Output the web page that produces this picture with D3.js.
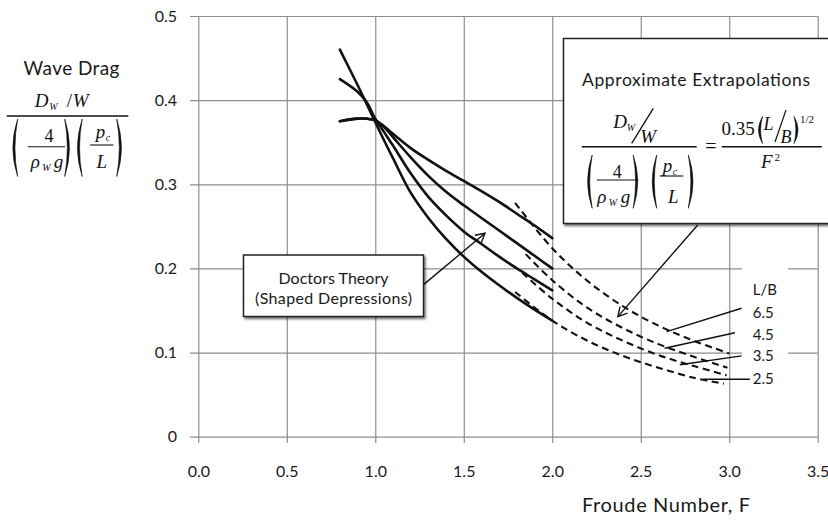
<!DOCTYPE html>
<html><head><meta charset="utf-8">
<script src="https://cdn.jsdelivr.net/npm/d3@7"></script>
<style>
body{margin:0;background:#fff}
svg{display:block}
.sans{font-family:Lato,'Open Sans','Liberation Sans',sans-serif;fill:#1a1a1a}
.serif{font-family:'Liberation Serif','DejaVu Serif',serif;fill:#111}
</style>
</head><body><svg id="c" width="828" height="522"></svg>
<script>
// ---------- data ----------
const xTicks = [0, 0.5, 1, 1.5, 2, 2.5, 3, 3.5];
const xTickLabels = ["0.0", "0.5", "1.0", "1.5", "2.0", "2.5", "3.0", "3.5"];
const yTicks = [0, 0.1, 0.2, 0.3, 0.4, 0.5];
const yTickLabels = ["0", "0.1", "0.2", "0.3", "0.4", "0.5"];
const ratios = ["6.5", "4.5", "3.5", "2.5"];

// Doctors theory (solid), Froude number grid
const theoryF  = [0.8, 0.9, 0.95, 1.0, 1.05, 1.1, 1.2, 1.3, 1.4, 1.5, 1.6, 1.7, 1.8, 1.9, 2.0];
const theory65 = [0.375, 0.378, 0.378, 0.376, 0.369, 0.360, 0.343, 0.329, 0.316, 0.304, 0.292, 0.279, 0.265, 0.251, 0.236];
const theory45 = [0.375, 0.378, 0.378, 0.376, 0.368, 0.356, 0.332, 0.310, 0.291, 0.275, 0.260, 0.245, 0.230, 0.215, 0.200];
const theory35 = [0.425, 0.410, 0.398, 0.378, 0.362, 0.346, 0.313, 0.285, 0.263, 0.244, 0.229, 0.214, 0.200, 0.187, 0.174];
const theory25 = [0.460, 0.418, 0.396, 0.374, 0.352, 0.331, 0.290, 0.260, 0.235, 0.214, 0.196, 0.180, 0.165, 0.151, 0.138];

// Approximate extrapolations (dashed)
const extrap65F = [1.79, 2.0, 2.2, 2.4, 2.6, 2.8, 3.0];
const extrap65  = [0.278, 0.224, 0.185, 0.155, 0.132, 0.114, 0.099];
const extrap45F = [1.85, 2.0, 2.2, 2.4, 2.6, 2.8, 2.99];
const extrap45  = [0.217, 0.186, 0.153, 0.129, 0.110, 0.095, 0.082];
const extrap35F = [1.83, 2.0, 2.2, 2.4, 2.6, 2.8, 2.985];
const extrap35  = [0.195, 0.164, 0.135, 0.114, 0.097, 0.084, 0.073];
const extrap25F = [1.79, 2.0, 2.2, 2.4, 2.6, 2.8, 2.97];
const extrap25  = [0.172, 0.138, 0.114, 0.096, 0.082, 0.070, 0.063];

// L/B label leader lines (data units): from label side to curve
const leaderFromF = [3.07, 3.032, 3.07, 3.117];
const leaderFromV = [0.1527, 0.1236, 0.096, 0.0683];
const leaderToF   = [2.646, 2.635, 2.721, 2.853];
const leaderToV   = [0.1249, 0.1051, 0.0855, 0.0683];
const labelV      = [0.1474, 0.1217, 0.0963, 0.0693];
const labelTitleV = 0.1744;
const labelF = 3.133;

// ---------- chart ----------
const svg = d3.select("#c");
const x = d3.scaleLinear().domain([0, 3.5]).range([198.3, 817.7]);
const y = d3.scaleLinear().domain([0, 0.5]).range([436.7, 16]);
const grid = "#8e8e8e";

// horizontal grid + y labels
const ya = svg.append("g").attr("transform", "translate(190,0)")
  .call(d3.axisLeft(y).tickValues(yTicks).tickFormat((d, i) => yTickLabels[i])
    .tickSizeInner(-(x(3.5) - 190)).tickSizeOuter(0).tickPadding(13));
ya.select(".domain").remove();
ya.selectAll("line").attr("stroke", grid).attr("stroke-width", 1.2);
ya.selectAll("text").attr("class", "sans").attr("font-size", 16).attr("fill", "#1a1a1a");

// vertical grid + x labels
const xa = svg.append("g").attr("transform", "translate(0,443)")
  .call(d3.axisBottom(x).tickValues(xTicks).tickFormat((d, i) => xTickLabels[i])
    .tickSizeInner(-(443 - y(0.5))).tickSizeOuter(0).tickPadding(23));
xa.select(".domain").remove();
xa.selectAll("line").attr("stroke", grid).attr("stroke-width", 1.2);
xa.selectAll("text").attr("class", "sans").attr("font-size", 16).attr("fill", "#1a1a1a");

svg.append("text").attr("class", "sans").attr("x", 666).attr("y", 512)
  .attr("text-anchor", "middle").attr("font-size", 20).attr("textLength", 168)
  .text("Froude Number, F");

// curves
const line = d3.line().x(d => x(d[0])).y(d => y(d[1])).curve(d3.curveCatmullRom.alpha(0.5));
const solidSets = [theory65, theory45, theory35, theory25];
solidSets.forEach(vals => {
  svg.append("path").attr("d", line(theoryF.map((f, i) => [f, vals[i]])))
    .attr("fill", "none").attr("stroke", "#111").attr("stroke-width", 2.6).attr("stroke-linecap", "round");
});
const dashSets = [[extrap65F, extrap65], [extrap45F, extrap45], [extrap35F, extrap35], [extrap25F, extrap25]];
dashSets.forEach(([fs, vals]) => {
  svg.append("path").attr("d", line(fs.map((f, i) => [f, vals[i]])))
    .attr("fill", "none").attr("stroke", "#111").attr("stroke-width", 2.1).attr("stroke-dasharray", "7,4.5");
});

// defs: shadow + arrow
const defs = svg.append("defs");
const flt = defs.append("filter").attr("id", "sh").attr("x", "-10%").attr("y", "-10%").attr("width", "130%").attr("height", "140%");
flt.append("feDropShadow").attr("dx", 1.5).attr("dy", 2).attr("stdDeviation", 1.3).attr("flood-color", "#000").attr("flood-opacity", 0.55);
defs.append("marker").attr("id", "arr").attr("viewBox", "0 0 12 12").attr("refX", 10).attr("refY", 6)
  .attr("markerWidth", 12).attr("markerHeight", 12).attr("markerUnits", "userSpaceOnUse").attr("orient", "auto")
  .append("path").attr("d", "M1,1 L10,6 L1,11").attr("fill", "none").attr("stroke", "#111").attr("stroke-width", 1.4);

// L/B label area (white behind)
svg.append("rect").attr("x", 742).attr("y", 262).attr("width", 46).attr("height", 128).attr("fill", "#fff");
ratios.forEach((r, i) => {
  svg.append("line").attr("x1", x(leaderFromF[i])).attr("y1", y(leaderFromV[i]))
    .attr("x2", x(leaderToF[i])).attr("y2", y(leaderToV[i])).attr("stroke", "#111").attr("stroke-width", 1.4);
  svg.append("text").attr("class", "sans").attr("x", x(labelF)).attr("y", y(labelV[i]))
    .attr("dy", "0.36em").attr("font-size", 15).text(r);
});
svg.append("text").attr("class", "sans").attr("x", x(labelF)).attr("y", y(labelTitleV))
  .attr("dy", "0.36em").attr("font-size", 15).text("L/B");

// arrows
svg.append("line").attr("x1", x(2.822)).attr("y1", y(0.2517)).attr("x2", x(2.371)).attr("y2", y(0.1427))
  .attr("stroke", "#111").attr("stroke-width", 1.4).attr("marker-end", "url(#arr)");
svg.append("line").attr("x1", x(1.271)).attr("y1", y(0.1804)).attr("x2", x(1.62)).attr("y2", y(0.2418))
  .attr("stroke", "#111").attr("stroke-width", 1.4).attr("marker-end", "url(#arr)");

// Doctors box
svg.append("rect").attr("x", 243.5).attr("y", 255).attr("width", 180).attr("height", 61.5)
  .attr("fill", "#fff").attr("stroke", "#222").attr("stroke-width", 1.5).attr("filter", "url(#sh)");
svg.append("text").attr("class", "sans").attr("x", 333.5).attr("y", 283.5).attr("text-anchor", "middle")
  .attr("font-size", 16).attr("textLength", 110).text("Doctors Theory");
svg.append("text").attr("class", "sans").attr("x", 333.5).attr("y", 304).attr("text-anchor", "middle")
  .attr("font-size", 16).attr("textLength", 157).text("(Shaped Depressions)");

// Extrapolation box
svg.append("rect").attr("x", 563.5).attr("y", 38.5).attr("width", 290).attr("height", 185)
  .attr("fill", "#fff").attr("stroke", "#222").attr("stroke-width", 1.5).attr("filter", "url(#sh)");
svg.append("text").attr("class", "sans").attr("x", 582).attr("y", 85.5)
  .attr("font-size", 17.5).attr("textLength", 228).text("Approximate Extrapolations");

// ---------- formula helpers ----------
function t(g, px, py, str, size, italic, anchor) {
  return g.append("text").attr("class", "serif").attr("x", px).attr("y", py).attr("font-size", size)
    .attr("font-style", italic ? "italic" : "normal").attr("text-anchor", anchor || "start").text(str);
}
function paren(g, x0, x1, y0, y1, left) {
  const m = (y0 + y1) / 2;
  const d = left
    ? `M${x1},${y0} Q${x0 - 2},${m} ${x1},${y1} Q${x0 + 2.2},${m} ${x1},${y0} Z`
    : `M${x0},${y0} Q${x1 + 2},${m} ${x0},${y1} Q${x1 - 2.2},${m} ${x0},${y0} Z`;
  g.append("path").attr("d", d).attr("fill", "#111").attr("stroke", "#111").attr("stroke-width", 0.6);
}
function hbar(g, x0, x1, yy, w) {
  g.append("line").attr("x1", x0).attr("x2", x1).attr("y1", yy).attr("y2", yy).attr("stroke", "#111").attr("stroke-width", w || 1.3);
}

// y-axis title
const yl = svg.append("g");
yl.append("text").attr("class", "sans").attr("x", 71.5).attr("y", 74.5).attr("text-anchor", "middle")
  .attr("font-size", 19).attr("textLength", 96).text("Wave Drag");
(function () {
  const bx = 6.7, by = 116;
  t(yl, bx + 28, by - 9.5, "D", 19, true);
  t(yl, bx + 42.5, by - 6, "W", 10, true);
  t(yl, bx + 60, by - 9.5, "/", 19, false);
  t(yl, bx + 66, by - 9.5, "W", 19, true);
  hbar(yl, bx, bx + 121.6, by, 1.6);
  paren(yl, bx + 3.3, bx + 11, by + 3, by + 60.5, true);
  t(yl, bx + 42.3, by + 25.5, "4", 18, false, "middle");
  hbar(yl, bx + 21.3, bx + 58.3, by + 30.7, 1.1);
  t(yl, bx + 24, by + 52.3, "ρ", 19, true);
  t(yl, bx + 35.5, by + 55, "W", 10, true);
  t(yl, bx + 47, by + 52.3, "g", 19, true);
  paren(yl, bx + 58, bx + 65.5, by + 3, by + 60.5, false);
  paren(yl, bx + 68, bx + 75.5, by + 3, by + 60.5, true);
  t(yl, bx + 89, by + 22, "p", 19, true);
  t(yl, bx + 99, by + 25, "c", 10, true);
  hbar(yl, bx + 83.3, bx + 106.7, by + 29, 1.1);
  t(yl, bx + 95, by + 52.3, "L", 19, true, "middle");
  paren(yl, bx + 110, bx + 117.5, by + 3, by + 60.5, false);
})();

// box formula
const bf = svg.append("g");
(function () {
  const bx = 581.7, by = 146.7;
  t(bf, bx + 31.6, by - 18.4, "D", 19, true);
  t(bf, bx + 45, by - 15.5, "W", 10, true);
  bf.append("line").attr("x1", bx + 50).attr("y1", by - 3.4).attr("x2", bx + 71.6).attr("y2", by - 38.4)
    .attr("stroke", "#111").attr("stroke-width", 1.3);
  t(bf, bx + 58.5, by - 3.6, "W", 19, true);
  hbar(bf, bx, bx + 115, by, 1.6);
  paren(bf, bx + 3.3, bx + 10.5, by + 8.3, by + 61.6, true);
  t(bf, bx + 35.5, by + 31.6, "4", 18, false, "middle");
  hbar(bf, bx + 15, bx + 56.6, by + 33.3, 1.1);
  t(bf, bx + 15.5, by + 56.6, "ρ", 19, true);
  t(bf, bx + 27, by + 59, "W", 10, true);
  t(bf, bx + 39, by + 56.6, "g", 19, true);
  paren(bf, bx + 51.5, bx + 58.5, by + 8.3, by + 61.6, false);
  paren(bf, bx + 68, bx + 75, by + 8.3, by + 61.6, true);
  t(bf, bx + 81, by + 25, "p", 19, true);
  t(bf, bx + 91, by + 28, "c", 10, true);
  hbar(bf, bx + 78, bx + 101.6, by + 29.3, 1.1);
  t(bf, bx + 91.5, by + 56.6, "L", 19, true, "middle");
  paren(bf, bx + 106.6, bx + 114, by + 8.3, by + 61.6, false);
  t(bf, 711, by + 6, "=", 20, false, "middle");
  // right side
  t(bf, 721.5, 135, "0.35", 19, false);
  paren(bf, 756.5, 762.5, 116.5, 143.5, true);
  t(bf, 763.5, 130, "L", 18, true);
  bf.append("line").attr("x1", 775).attr("y1", 142).attr("x2", 786).attr("y2", 110).attr("stroke", "#111").attr("stroke-width", 1.2);
  t(bf, 780.5, 143.3, "B", 18, true);
  paren(bf, 794, 800, 116.5, 143.5, false);
  t(bf, 800, 123, "1/2", 11, false);
  hbar(bf, 721.7, 821.7, by, 1.6);
  t(bf, 761, 168.3, "F", 19, true);
  t(bf, 774.5, 160.5, "2", 11, false);
})();
</script>
</body></html>
